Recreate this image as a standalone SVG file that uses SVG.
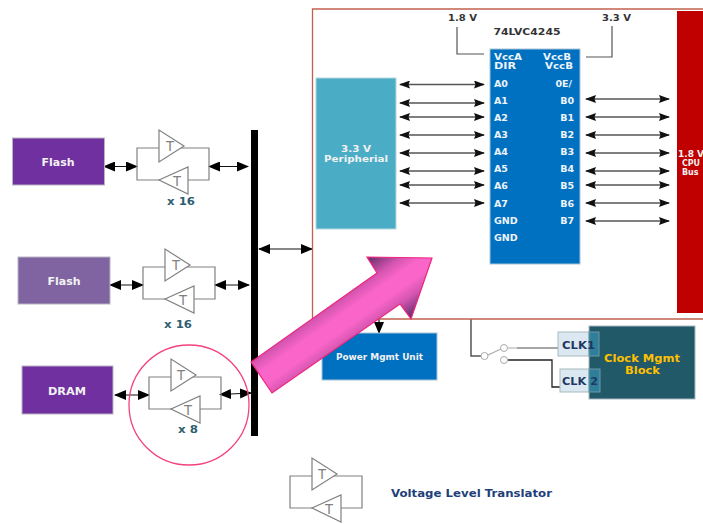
<svg xmlns="http://www.w3.org/2000/svg" width="703" height="524" viewBox="0 0 703 524">
<style>
text{font-family:"DejaVu Sans","Liberation Sans",sans-serif;font-weight:700;text-anchor:middle}
.w{fill:#f2f2f2}
.box{stroke:#b9b4c4;stroke-width:1}
.pin{fill:#eef4fa;font-size:9.500px;text-anchor:start}
.pr{fill:#eef4fa;font-size:9.500px;text-anchor:end}
.sm{font-size:8px}
.t{font-family:"Liberation Sans",sans-serif;font-weight:400;font-size:14px;fill:#808080}
.n{font-size:11px;fill:#2f5f70}
.v{font-size:9.500px;fill:#333}
.a{stroke:#555;stroke-width:1.3;fill:none;marker-start:url(#s);marker-end:url(#e)}
.b{stroke:#111;stroke-width:1.2;fill:none;marker-start:url(#bs);marker-end:url(#be)}
.clk{fill:#1f3864;font-size:11px}
</style>
<defs>
<marker id="e" markerUnits="userSpaceOnUse" markerWidth="11" markerHeight="8" refX="10" refY="4" orient="auto"><path d="M0 0L11 4L0 8L1.500 4Z" fill="#111"/></marker>
<marker id="s" markerUnits="userSpaceOnUse" markerWidth="11" markerHeight="8" refX="1" refY="4" orient="auto"><path d="M11 0L0 4L11 8L9.500 4Z" fill="#111"/></marker>
<marker id="be" markerUnits="userSpaceOnUse" markerWidth="12" markerHeight="10" refX="11" refY="5" orient="auto"><path d="M0 0L12 5L0 10Z" fill="#000"/></marker>
<marker id="bs" markerUnits="userSpaceOnUse" markerWidth="12" markerHeight="10" refX="1" refY="5" orient="auto"><path d="M12 0L0 5L12 10Z" fill="#000"/></marker>
<linearGradient id="pink" gradientUnits="userSpaceOnUse" x1="367" y1="257" x2="411" y2="319">
<stop offset="0" stop-color="#5f2a66"/><stop offset=".27" stop-color="#d556b0"/><stop offset=".42" stop-color="#f965c8"/><stop offset=".6" stop-color="#f965c8"/><stop offset=".75" stop-color="#d556b0"/><stop offset="1" stop-color="#5f2a66"/>
</linearGradient>
<g id="tr" fill="#fff" stroke="#808080" stroke-width="1.2">
<path d="M0 0H72V32H0Z" fill="none"/>
<path d="M22 -18V14L47 -2Z"/>
<path d="M22 32L51 19V46Z"/>
</g>
</defs>

<g id="connectors">
<rect x="251" y="130" width="7" height="306" fill="#000"/>
<path class="b" d="M104 166.500H137"/><path class="b" d="M209 166.500H248"/>
<path class="b" d="M110 285H143"/><path class="b" d="M215 285H249"/>
<path class="b" d="M115 395H149"/><path class="b" d="M220 394.500L251 393"/>
<path class="b" d="M259 249H312"/>
<path class="a" d="M400 84.500H484"/><path class="a" d="M400 103H484"/><path class="a" d="M400 117H484"/><path class="a" d="M400 135H484"/><path class="a" d="M400 153H484"/><path class="a" d="M400 171H484"/><path class="a" d="M400 185H484"/><path class="a" d="M400 203H484"/>
<path class="a" d="M586 99H669"/><path class="a" d="M586 117H669"/><path class="a" d="M586 135H669"/><path class="a" d="M586 153H669"/><path class="a" d="M586 171H669"/><path class="a" d="M586 185H669"/><path class="a" d="M586 203H669"/><path class="a" d="M586 221H669"/>
<path d="M457 27V54H484" fill="none" stroke="#555" stroke-width="1.2"/>
<path d="M612 26V57H586" fill="none" stroke="#555" stroke-width="1.2"/>
<path d="M379 319V333" fill="none" stroke="#111" stroke-width="1.2" marker-end="url(#be)"/>
<path d="M471 319V356H481" fill="none" stroke="#555" stroke-width="1.500"/>
<path d="M488 355L501 349M508 348H517" fill="none" stroke="#aaa" stroke-width="1.2"/>
<path d="M517 348H558" fill="none" stroke="#888" stroke-width="1.600"/>
<path d="M508 360H552V387H560" fill="none" stroke="#222" stroke-width="1.300"/>
<g fill="#fff" stroke="#aaa" stroke-width="1"><circle cx="484.500" cy="356" r="3.500"/><circle cx="504" cy="348" r="3.500"/><circle cx="504" cy="360" r="3.500"/></g>
</g>

<g id="flash1"><rect class="box" x="12.500" y="138" width="92" height="47" fill="#7030a0"/><text class="w" x="58" y="166" font-size="11" textLength="33" lengthAdjust="spacingAndGlyphs">Flash</text></g>
<g id="translator1"><use href="#tr" x="137" y="148"/><text class="t" x="170" y="151">T</text><text class="t" x="177" y="186">T</text><text class="n" x="181" y="205" textLength="28" lengthAdjust="spacingAndGlyphs">x 16</text></g>
<g id="flash2"><rect class="box" x="18" y="257" width="92" height="47" fill="#8064a2"/><text class="w" x="64" y="285" font-size="11" textLength="33" lengthAdjust="spacingAndGlyphs">Flash</text></g>
<g id="translator2"><use href="#tr" x="143" y="267"/><text class="t" x="176" y="270">T</text><text class="t" x="183" y="305">T</text><text class="n" x="178" y="328" textLength="28" lengthAdjust="spacingAndGlyphs">x 16</text></g>
<g id="dram"><rect class="box" x="22" y="366" width="91" height="48" fill="#7030a0"/><text class="w" x="67" y="395" font-size="11" textLength="38" lengthAdjust="spacingAndGlyphs">DRAM</text></g>
<circle id="highlight" cx="189" cy="405" r="60" fill="none" stroke="#f4417f" stroke-width="1.300"/>
<g id="translator3"><use href="#tr" x="149" y="377"/><text class="t" x="181" y="380">T</text><text class="t" x="188" y="415">T</text><text class="n" x="188" y="433" textLength="20" lengthAdjust="spacingAndGlyphs">x 8</text></g>

<g id="board"><path d="M703 9H312.500V319H703" fill="none" stroke="#c0614f" stroke-width="1.300"/></g>
<g id="peripheral"><rect x="316" y="78" width="80" height="151" fill="#4bacc6" stroke="#b7d6df"/><text class="w" x="356" y="152" font-size="8.500" textLength="30" lengthAdjust="spacingAndGlyphs">3.3 V</text><text class="w" x="356" y="162" font-size="8.500" textLength="64" lengthAdjust="spacingAndGlyphs">Peripherial</text></g>
<g id="chip"><rect x="490" y="49" width="90" height="215" fill="#0070c0" stroke="#a9c4d8"/>
<text class="v" x="527" y="35" style="font-size:8.500px" textLength="67" lengthAdjust="spacingAndGlyphs">74LVC4245</text>
<text class="pin sm" x="494" y="60" textLength="28" lengthAdjust="spacingAndGlyphs">VccA</text><text class="pin sm" x="494" y="69" textLength="22" lengthAdjust="spacingAndGlyphs">DIR</text>
<text class="pin" x="494" y="87">A0</text><text class="pin" x="494" y="104">A1</text><text class="pin" x="494" y="121">A2</text><text class="pin" x="494" y="138">A3</text><text class="pin" x="494" y="155">A4</text><text class="pin" x="494" y="172">A5</text><text class="pin" x="494" y="189">A6</text><text class="pin" x="494" y="207">A7</text><text class="pin" x="494" y="224">GND</text><text class="pin" x="494" y="241">GND</text>
<text class="pr sm" x="571" y="60" textLength="28" lengthAdjust="spacingAndGlyphs" style="text-anchor:start" dx="-28">VccB</text><text class="pr sm" x="573" y="69" textLength="28" lengthAdjust="spacingAndGlyphs" style="text-anchor:start" dx="-28">VccB</text>
<text class="pr" x="572" y="87">0E/</text><text class="pr" x="574" y="104">B0</text><text class="pr" x="574" y="121">B1</text><text class="pr" x="574" y="138">B2</text><text class="pr" x="574" y="155">B3</text><text class="pr" x="574" y="172">B4</text><text class="pr" x="574" y="189">B5</text><text class="pr" x="574" y="207">B6</text><text class="pr" x="574" y="224">B7</text></g>
<text class="v" x="462.500" y="21" textLength="29" lengthAdjust="spacingAndGlyphs">1.8 V</text>
<text class="v" x="616.500" y="21" textLength="29" lengthAdjust="spacingAndGlyphs">3.3 V</text>
<g id="cpu"><rect x="677" y="11" width="28" height="302" fill="#c00000"/><g style="font-size:8px"><text class="w" x="678" y="157" style="text-anchor:start" textLength="26" lengthAdjust="spacingAndGlyphs">1.8 V</text><text class="w" x="691" y="166">CPU</text><text class="w" x="682" y="175" style="text-anchor:start">Bus</text></g></g>
<g id="power"><rect x="322" y="333" width="115" height="47" fill="#0070c0" stroke="#a9c4d8"/><text class="w" x="379.500" y="360" font-size="8.500" textLength="87" lengthAdjust="spacingAndGlyphs">Power Mgmt Unit</text></g>
<g id="clock">
<rect x="558" y="332" width="41" height="24" fill="#dbe8f1" stroke="#a9b9bf"/>
<rect x="560" y="369" width="40" height="23" fill="#dbe8f1" stroke="#a9b9bf"/>
<rect x="589" y="326" width="106" height="73" fill="#215968" stroke="#a9b9bf"/>
<rect x="589" y="332" width="10" height="24" fill="#2f7f9a" stroke="#6f98a5"/>
<rect x="589" y="369" width="11" height="23" fill="#2f7f9a" stroke="#6f98a5"/>
<text class="clk" x="578.500" y="349" textLength="33" lengthAdjust="spacingAndGlyphs">CLK1</text><text class="clk" x="580" y="385" textLength="36" lengthAdjust="spacingAndGlyphs">CLK 2</text>
<text x="642" y="362" font-size="10" fill="#ffc000" textLength="76" lengthAdjust="spacingAndGlyphs">Clock Mgmt</text><text x="642.500" y="373.500" font-size="10" fill="#ffc000" textLength="35" lengthAdjust="spacingAndGlyphs">Block</text></g>
<polygon id="pink-arrow" points="251,362 377,273 367,257 432,258 411,319 400,304 272,393" fill="url(#pink)" stroke="#f0257f" stroke-width="1.200"/>
<g id="legend"><use href="#tr" x="290" y="476"/><text class="t" x="322" y="479">T</text><text class="t" x="329" y="514">T</text><text x="471.500" y="497" font-size="10" fill="#1f3f7a" textLength="161" lengthAdjust="spacingAndGlyphs">Voltage Level Translator</text></g>
</svg>
